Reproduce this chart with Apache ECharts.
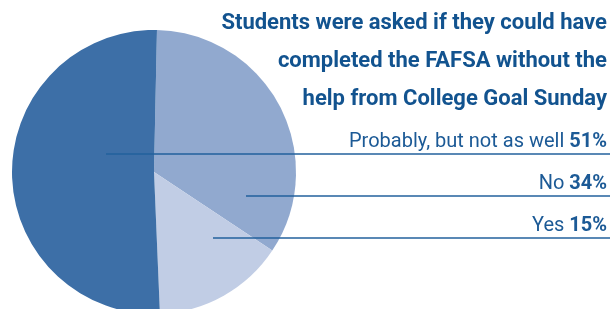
<!DOCTYPE html>
<html>
<head>
<meta charset="utf-8">
<script src="https://cdn.jsdelivr.net/npm/echarts@6/dist/echarts.min.js"></script>
<style>
  html, body { margin: 0; padding: 0; background: #ffffff; }
  #chart { width: 610px; height: 309px; }
</style>
</head>
<body>
<div id="chart"></div>
<script>
// slices, clockwise from the top
const categories = ['No', 'Yes', 'Probably, but not as well']
const values = [34, 15, 51]
const titleLines = [
  'Students were asked if they could have',
  'completed the FAFSA without the',
  'help from College Goal Sunday'
]

const sliceColors = ['#91a9cf', '#c1cde5', '#3d6fa7']
const titleColor = '#12538f'
const textColor = '#1c5a96'
const lineColor = '#22609d'
const fontFamily = 'Roboto'

// leader line placement: y of the rule under each label and where it starts
const guideY = [196, 238, 154]
const guideStartX = [246, 213, 106]

const pieData = categories.map((name, i) => ({
  name: name,
  value: values[i],
  itemStyle: { color: sliceColors[i] }
}))

const chart = echarts.init(document.getElementById('chart'))

chart.setOption({
  backgroundColor: '#ffffff',
  animation: false,
  title: {
    text: titleLines.join('\n'),
    left: 'right',
    top: 0,
    padding: [4, 3, 0, 0],
    textStyle: {
      color: titleColor,
      fontFamily: fontFamily,
      fontWeight: 'bold',
      fontSize: 22,
      lineHeight: 38
    }
  },
  series: [
    {
      // the slices
      type: 'pie',
      z: 2,
      center: [154, 172],
      radius: [0, 142],
      startAngle: 88.8,
      silent: true,
      label: { show: false },
      labelLine: { show: false },
      data: pieData
    },
    {
      // transparent copy on top that carries labels and leader rules
      type: 'pie',
      z: 3,
      center: [154, 172],
      radius: [0, 142],
      startAngle: 88.8,
      silent: true,
      avoidLabelOverlap: false,
      itemStyle: { color: 'rgba(0,0,0,0)' },
      data: categories.map((name, i) => ({ name: name, value: values[i] })),
      label: {
        show: true,
        position: 'outside',
        formatter: p => '{n|' + p.name + ' }{p|' + p.value + '%}',
        rich: {
          n: { fontFamily: fontFamily, fontSize: 20, color: textColor },
          p: { fontFamily: fontFamily, fontSize: 20, color: textColor, fontWeight: 'bold' }
        }
      },
      labelLine: {
        show: true,
        lineStyle: { color: lineColor, width: 1.5 }
      },
      labelLayout: params => {
        const i = params.dataIndex
        const y = guideY[i]
        return {
          x: 607,
          y: y - 2,
          align: 'right',
          verticalAlign: 'bottom',
          labelLinePoints: [[guideStartX[i], y], [400, y], [610, y]]
        }
      }
    }
  ]
})
</script>
</body>
</html>
